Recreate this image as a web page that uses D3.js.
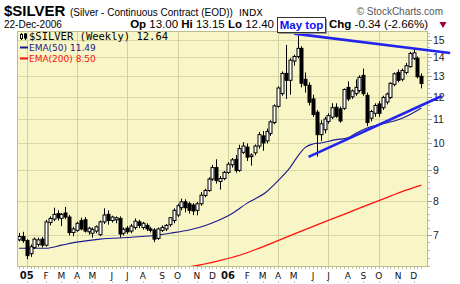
<!DOCTYPE html>
<html>
<head>
<meta charset="utf-8">
<script src="https://cdn.jsdelivr.net/npm/d3@7"></script>
<style>
  html, body { margin: 0; padding: 0; background: #fff; }
  svg { display: block; }
  text { font-family: "Liberation Sans", Arial, sans-serif; }
</style>
</head>
<body>
<svg id="chart" width="460" height="284"></svg>
<script>
// weekly bars [open, high, low, close], first bar = week of 20-Dec-2004
var firstWeek = new Date(2004, 11, 20);
var lastWeek = new Date(2006, 11, 18);

var bars = [
  [6.86, 7.05, 6.82, 6.95], [6.95, 7.08, 6.78, 6.84],
  [6.84, 6.88, 6.36, 6.45], [6.50, 6.74, 6.42, 6.68], [6.66, 6.92, 6.62, 6.88], [6.74, 6.92, 6.68, 6.86], [6.88, 6.94, 6.66, 6.72],
  [6.72, 7.42, 6.68, 7.36], [7.34, 7.52, 7.26, 7.46], [7.44, 7.78, 7.38, 7.58], [7.60, 7.70, 7.40, 7.48],
  [7.46, 7.62, 7.24, 7.58], [7.62, 7.80, 7.44, 7.50], [7.50, 7.56, 6.98, 7.06], [7.06, 7.22, 6.96, 7.16],
  [7.12, 7.36, 7.08, 7.32], [7.40, 7.48, 7.12, 7.16], [7.42, 7.50, 7.06, 7.10], [7.08, 7.22, 7.00, 7.18],
  [7.04, 7.20, 6.92, 7.14], [7.10, 7.26, 7.04, 7.22], [7.00, 7.40, 6.96, 7.36], [7.36, 7.76, 7.30, 7.56], [7.58, 7.70, 7.28, 7.40],
  [7.40, 7.54, 7.34, 7.50], [7.42, 7.52, 7.32, 7.48], [7.46, 7.52, 6.92, 7.02], [7.04, 7.20, 6.98, 7.15],
  [7.18, 7.24, 7.02, 7.08], [7.10, 7.30, 7.04, 7.24], [7.20, 7.46, 7.14, 7.38], [7.36, 7.42, 7.18, 7.26],
  [7.20, 7.36, 7.14, 7.32], [7.26, 7.32, 7.10, 7.16], [7.16, 7.22, 7.06, 7.12], [7.13, 7.18, 6.80, 6.88], [6.90, 7.20, 6.86, 7.16],
  [7.12, 7.26, 7.08, 7.20], [7.16, 7.30, 7.10, 7.26], [7.28, 7.50, 7.22, 7.48], [7.40, 7.76, 7.32, 7.70],
  [7.56, 7.90, 7.50, 7.84], [7.78, 8.06, 7.70, 7.96], [7.96, 8.04, 7.64, 7.78], [7.90, 7.96, 7.60, 7.70], [7.86, 7.92, 7.56, 7.68],
  [7.70, 7.96, 7.55, 7.90], [7.90, 8.27, 7.84, 8.17], [8.16, 8.38, 8.10, 8.32], [8.32, 8.76, 8.28, 8.70],
  [8.70, 9.20, 8.64, 9.10], [9.10, 9.40, 8.55, 8.65], [8.62, 8.80, 8.35, 8.72], [8.72, 8.98, 8.66, 8.93],
  [8.93, 9.30, 8.88, 9.22], [9.20, 9.45, 9.10, 9.38], [9.40, 9.56, 8.92, 9.00], [9.00, 9.95, 8.95, 9.80], [9.66, 10.05, 9.60, 9.90],
  [9.86, 10.00, 9.34, 9.48], [9.50, 9.62, 9.17, 9.56], [9.64, 9.96, 9.55, 9.90], [9.90, 10.46, 9.80, 10.35],
  [10.30, 10.50, 9.72, 10.02], [10.10, 10.60, 10.00, 10.48], [10.40, 10.95, 10.30, 10.88], [10.85, 11.65, 10.78, 11.58],
  [11.56, 12.50, 11.50, 12.42], [12.15, 13.25, 12.05, 13.15], [13.15, 14.70, 11.90, 12.80], [12.80, 13.95, 12.10, 13.85],
  [13.80, 14.15, 13.55, 14.05], [14.05, 15.25, 13.95, 14.50], [14.50, 14.62, 12.45, 12.65], [12.85, 13.20, 12.20, 12.55], [12.55, 12.70, 11.60, 11.75],
  [11.90, 12.10, 11.10, 11.20], [11.30, 11.40, 9.50, 10.35], [10.35, 10.95, 10.10, 10.80], [10.55, 11.10, 10.40, 11.00],
  [10.90, 11.25, 10.80, 11.15], [11.08, 11.70, 11.00, 11.50], [11.52, 11.70, 11.05, 11.12], [11.45, 11.55, 10.85, 10.92], [11.47, 12.40, 11.40, 12.35],
  [12.45, 12.75, 11.80, 11.90], [12.00, 12.35, 11.90, 12.28], [12.15, 12.85, 12.05, 12.45], [12.30, 13.05, 12.20, 12.95],
  [13.05, 13.40, 12.05, 12.15], [12.07, 12.20, 10.70, 10.85], [11.04, 11.40, 10.90, 11.33], [11.25, 11.70, 11.10, 11.60],
  [11.67, 11.80, 11.10, 11.25], [11.50, 12.05, 11.40, 11.97], [11.76, 12.20, 11.65, 12.13], [11.97, 12.70, 11.90, 12.65], [12.60, 13.20, 12.50, 13.13],
  [13.20, 13.35, 12.70, 12.80], [12.85, 13.40, 12.75, 13.30], [13.20, 13.70, 13.10, 13.55], [13.50, 14.30, 13.45, 14.22],
  [13.95, 14.50, 13.85, 14.25], [13.95, 14.05, 12.90, 12.98], [13.00, 13.15, 12.40, 12.64]
];

// moving averages: [bar number, value]
var ema50 = [
  [0, 6.64], [7, 6.64], [11, 6.72], [15, 6.80], [21, 6.88], [29, 6.93], [36, 6.99], [39, 7.04],
  [44, 7.13], [48, 7.25], [51, 7.38], [55, 7.60], [59, 7.92], [64, 8.28], [67, 8.65], [70, 9.09],
  [72, 9.50], [74, 9.85], [76, 9.98], [78, 10.02], [82, 10.15], [85, 10.22], [87, 10.40], [90, 10.62],
  [93, 10.76], [98, 10.97], [101, 11.19], [104, 11.49]
];
var ema200 = [
  [40, 6.10], [44, 6.17], [51, 6.31], [57, 6.46], [61, 6.60], [66, 6.80], [72, 7.06], [78, 7.32],
  [84, 7.58], [90, 7.86], [96, 8.14], [100, 8.33], [104, 8.50]
];

// hand drawn trend lines
var trendTop = [["2006-05-02", 15.36], ["2007-02-08", 14.24]];
var trendBottom = [["2006-05-28", 9.49], ["2007-01-24", 12.04]];

var priceTicks = [7, 8, 9, 10, 11, 12, 13, 14, 15];

var plot = { left: 17, right: 428, top: 31, bottom: 267 };

var svg = d3.select("#chart");
var parseDay = d3.timeParse("%Y-%m-%d");

var dates = d3.timeMonday.range(firstWeek, d3.timeDay.offset(lastWeek, 1));

var x = d3.scaleTime()
    .domain([new Date(2004, 11, 16, 12), new Date(2006, 11, 30)])
    .range([plot.left, plot.right]);

var y = d3.scaleLog()
    .domain([6.17, 15.52])
    .range([plot.bottom, plot.top]);

// month starts
var monthTicks = dates.filter(function (d, i) {
    return i > 0 && d.getMonth() !== dates[i - 1].getMonth();
});

svg.append("rect")
    .attr("x", plot.left).attr("y", plot.top)
    .attr("width", plot.right - plot.left).attr("height", plot.bottom - plot.top)
    .style("fill", "#f8f6c6");

// grid
svg.append("g").selectAll("line")
    .data(priceTicks)
    .enter().append("line")
    .attr("x1", plot.left).attr("x2", plot.right)
    .attr("y1", function (d) { return Math.round(y(d)) + 0.5; })
    .attr("y2", function (d) { return Math.round(y(d)) + 0.5; })
    .style("stroke", "#d9d9a8");

svg.append("g").selectAll("line")
    .data(monthTicks.filter(function (d) { return d.getMonth() % 3 === 0; }))
    .enter().append("line")
    .attr("x1", function (d) { return Math.round(x(d)) + 0.5; })
    .attr("x2", function (d) { return Math.round(x(d)) + 0.5; })
    .attr("y1", plot.top).attr("y2", plot.bottom)
    .style("stroke", "#d0d0a0");

svg.append("clipPath").attr("id", "plotclip")
    .append("rect")
    .attr("x", plot.left).attr("y", plot.top)
    .attr("width", plot.right - plot.left).attr("height", plot.bottom - plot.top);

var inner = svg.append("g").attr("clip-path", "url(#plotclip)");

var maLine = d3.line()
    .x(function (d) { return x(dates[d[0]]); })
    .y(function (d) { return y(d[1]); })
    .curve(d3.curveMonotoneX);

inner.append("path")
    .attr("d", maLine(ema200))
    .style("fill", "none").style("stroke", "#ff1010").style("stroke-width", 1.3);

inner.append("path")
    .attr("d", maLine(ema50))
    .style("fill", "none").style("stroke", "#1a1a8c").style("stroke-width", 1.1);

// candles
var candle = inner.append("g").selectAll("g")
    .data(bars)
    .enter().append("g");

candle.append("line")
    .attr("x1", function (d, i) { return Math.round(x(dates[i])) + 0.5; })
    .attr("x2", function (d, i) { return Math.round(x(dates[i])) + 0.5; })
    .attr("y1", function (d) { return y(d[1]); })
    .attr("y2", function (d) { return y(d[2]); })
    .style("stroke", "#000").style("stroke-width", 1);

candle.append("rect")
    .attr("x", function (d, i) { return Math.round(x(dates[i])) - 1; })
    .attr("width", 3)
    .attr("y", function (d) { return y(Math.max(d[0], d[3])); })
    .attr("height", function (d) { return Math.max(1, y(Math.min(d[0], d[3])) - y(Math.max(d[0], d[3]))); })
    .style("fill", function (d) { return d[3] >= d[0] ? "#ffffff" : "#000000"; })
    .style("stroke", "#000").style("stroke-width", 1);

// frame
svg.append("rect")
    .attr("x", plot.left + 0.5).attr("y", plot.top + 0.5)
    .attr("width", plot.right - plot.left - 1).attr("height", plot.bottom - plot.top - 1)
    .style("fill", "none").style("stroke", "#bcbc8c");

// right price axis
var minorTicks = d3.range(6.2, 15.5, 0.2).filter(function (v) { return Math.abs(v - Math.round(v)) > 0.01; });
svg.append("g").selectAll("line")
    .data(minorTicks)
    .enter().append("line")
    .attr("x1", plot.right).attr("x2", plot.right + 2)
    .attr("y1", function (d) { return Math.round(y(d)) + 0.5; })
    .attr("y2", function (d) { return Math.round(y(d)) + 0.5; })
    .style("stroke", "#bcbc8c");

svg.append("g").selectAll("line")
    .data(priceTicks)
    .enter().append("line")
    .attr("x1", plot.right).attr("x2", plot.right + 4)
    .attr("y1", function (d) { return Math.round(y(d)) + 0.5; })
    .attr("y2", function (d) { return Math.round(y(d)) + 0.5; })
    .style("stroke", "#a0a070");

svg.append("g").selectAll("text")
    .data(priceTicks)
    .enter().append("text")
    .attr("x", 433)
    .attr("y", function (d) { return y(d) + 4; })
    .text(function (d) { return d; })
    .style("font-size", "10.5px")
    .style("fill", "#222");

// bottom axis
svg.append("g").selectAll("line")
    .data(dates)
    .enter().append("line")
    .attr("x1", function (d) { return Math.round(x(d)) + 0.5; })
    .attr("x2", function (d) { return Math.round(x(d)) + 0.5; })
    .attr("y1", plot.bottom).attr("y2", plot.bottom + 2)
    .style("stroke", "#c4c49a");

var monthName = d3.timeFormat("%b");
var yearName = d3.timeFormat("%y");

svg.append("g").selectAll("text")
    .data(monthTicks)
    .enter().append("text")
    .attr("x", function (d) { return x(d); })
    .attr("y", 279)
    .attr("text-anchor", "middle")
    .text(function (d) { return d.getMonth() === 0 ? yearName(d) : monthName(d).charAt(0); })
    .style("font-family", "'DejaVu Sans', Verdana, sans-serif")
    .style("font-size", function (d) { return d.getMonth() === 0 ? "10px" : "9px"; })
    .style("font-weight", function (d) { return d.getMonth() === 0 ? "bold" : "normal"; })
    .style("fill", "#111");

svg.append("g").selectAll("line")
    .data(monthTicks)
    .enter().append("line")
    .attr("x1", function (d) { return Math.round(x(d)) + 0.5; })
    .attr("x2", function (d) { return Math.round(x(d)) + 0.5; })
    .attr("y1", 281).attr("y2", 283)
    .style("stroke", "#cccccc");

// trend lines
var trendLine = d3.line()
    .x(function (d) { return x(parseDay(d[0])); })
    .y(function (d) { return y(d[1]); });

[trendTop, trendBottom].forEach(function (t) {
    svg.append("path")
        .attr("d", trendLine(t))
        .style("fill", "none")
        .style("stroke", "#2323f0")
        .style("stroke-width", 2.6);
});

// legend
var legend = svg.append("g");
legend.append("line").attr("x1", 21.5).attr("x2", 21.5).attr("y1", 33).attr("y2", 40).style("stroke", "#000");
legend.append("rect").attr("x", 20.5).attr("y", 34.5).attr("width", 2).attr("height", 4).style("fill", "#fff").style("stroke", "#000");
legend.append("line").attr("x1", 25.5).attr("x2", 25.5).attr("y1", 33).attr("y2", 40).style("stroke", "#000");
legend.append("rect").attr("x", 24.5).attr("y", 34).attr("width", 2).attr("height", 4).style("fill", "#000").style("stroke", "#000");

legend.append("text")
    .attr("x", 29).attr("y", 40)
    .text("$SILVER (Weekly) 12.64")
    .style("font-family", "'DejaVu Sans Mono', monospace")
    .style("font-size", "10.5px")
    .style("fill", "#000");

legend.append("line").attr("x1", 20).attr("x2", 28).attr("y1", 47.5).attr("y2", 47.5)
    .style("stroke", "#1a1a8c").style("stroke-width", 2);
legend.append("text")
    .attr("x", 29).attr("y", 51)
    .text("EMA(50) 11.49")
    .style("font-family", "'DejaVu Sans', Verdana, sans-serif")
    .style("font-size", "9px")
    .style("fill", "#1a1a8c");

legend.append("line").attr("x1", 20).attr("x2", 28).attr("y1", 58.5).attr("y2", 58.5)
    .style("stroke", "#ff1010").style("stroke-width", 2);
legend.append("text")
    .attr("x", 29).attr("y", 62)
    .text("EMA(200) 8.50")
    .style("font-family", "'DejaVu Sans', Verdana, sans-serif")
    .style("font-size", "9px")
    .style("fill", "#ff1010");

// header
svg.append("text")
    .attr("x", 4).attr("y", 16)
    .text("$SILVER")
    .style("font-size", "15px").style("font-weight", "bold");

svg.append("text")
    .attr("x", 70).attr("y", 16)
    .text("(Silver - Continuous Contract (EOD))")
    .style("font-size", "10px");

svg.append("text")
    .attr("x", 239).attr("y", 16)
    .text("INDX")
    .style("font-family", "'DejaVu Sans', Verdana, sans-serif")
    .style("font-size", "9.5px");

svg.append("text")
    .attr("x", 443).attr("y", 15)
    .attr("text-anchor", "end")
    .text("\u00a9 StockCharts.com")
    .style("font-size", "10px")
    .style("fill", "#555");

svg.append("text")
    .attr("x", 4).attr("y", 28)
    .text("22-Dec-2006")
    .style("font-size", "10px");

var quote = svg.append("text")
    .attr("x", 274).attr("y", 28)
    .attr("text-anchor", "end")
    .style("font-size", "11.5px");
[["Op", " 13.00 "], ["Hi", " 13.15 "], ["Lo", " 12.40"]].forEach(function (p) {
    quote.append("tspan").text(p[0]).style("font-weight", "bold");
    quote.append("tspan").text(p[1]);
});

svg.append("rect")
    .attr("x", 279).attr("y", 19)
    .attr("width", 48).attr("height", 15)
    .style("fill", "#999");
svg.append("rect")
    .attr("x", 277.5).attr("y", 17.5)
    .attr("width", 48).attr("height", 15)
    .style("fill", "#fff").style("stroke", "#333");
svg.append("text")
    .attr("x", 301.5).attr("y", 28.5)
    .attr("text-anchor", "middle")
    .text("May top")
    .style("font-size", "11.5px").style("font-weight", "bold")
    .style("fill", "#1010f0");

var chg = svg.append("text")
    .attr("x", 329).attr("y", 28)
    .style("font-size", "11.5px");
chg.append("tspan").text("Chg").style("font-weight", "bold");
chg.append("tspan").text(" -0.34 (-2.66%)");

svg.append("path")
    .attr("d", d3.symbol().type(d3.symbolTriangle).size(22)())
    .attr("transform", "translate(443,24) rotate(180)")
    .style("fill", "#a0003a");
</script>
</body>
</html>
